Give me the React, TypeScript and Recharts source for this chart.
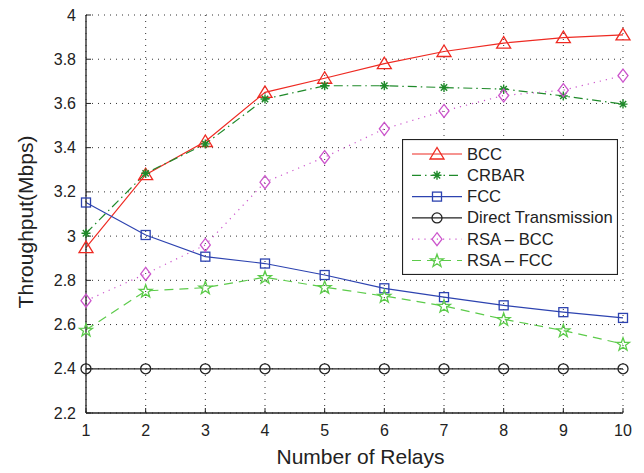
import { LineChart, Line, XAxis, YAxis, CartesianGrid, Legend, Label } from 'recharts';

const relays = [1, 2, 3, 4, 5, 6, 7, 8, 9, 10];
const bcc = [2.948, 3.278, 3.428, 3.65, 3.714, 3.78, 3.835, 3.873, 3.898, 3.91];
const crbar = [3.013, 3.284, 3.417, 3.62, 3.68, 3.68, 3.672, 3.665, 3.634, 3.597];
const fcc = [3.152, 3.005, 2.907, 2.876, 2.824, 2.764, 2.724, 2.687, 2.656, 2.63];
const direct = [2.4, 2.4, 2.4, 2.4, 2.4, 2.4, 2.4, 2.4, 2.4, 2.4];
const rsaBcc = [2.708, 2.829, 2.96, 3.244, 3.357, 3.485, 3.566, 3.636, 3.66, 3.726];
const rsaFcc = [2.576, 2.752, 2.767, 2.814, 2.769, 2.729, 2.684, 2.624, 2.573, 2.512];
const yTicks = [2.2, 2.4, 2.6, 2.8, 3, 3.2, 3.4, 3.6, 3.8, 4];

const data = relays.map((r, i) => ({
  relays: r,
  bcc: bcc[i],
  crbar: crbar[i],
  fcc: fcc[i],
  direct: direct[i],
  rsaBcc: rsaBcc[i],
  rsaFcc: rsaFcc[i],
}));

type Shape = 'triangle' | 'asterisk' | 'square' | 'circle' | 'diamond' | 'star';

const series: { key: string; name: string; color: string; dash?: string; shape: Shape; width: number }[] = [
  { key: 'bcc', name: 'BCC', color: '#ee2a22', shape: 'triangle', width: 1.2 },
  { key: 'crbar', name: 'CRBAR', color: '#1f8a2a', dash: '9 4 1.5 4', shape: 'asterisk', width: 1.2 },
  { key: 'fcc', name: 'FCC', color: '#2d43b0', shape: 'square', width: 1.2 },
  { key: 'direct', name: 'Direct Transmission', color: '#222222', shape: 'circle', width: 1.2 },
  { key: 'rsaBcc', name: 'RSA \u2013 BCC', color: '#cc55cc', dash: '1.2 5', shape: 'diamond', width: 1.2 },
  { key: 'rsaFcc', name: 'RSA \u2013 FCC', color: '#5ccb4a', dash: '9 6', shape: 'star', width: 1.2 },
];

const font = '"Liberation Sans", Arial, Helvetica, sans-serif';

function Marker({ shape, cx, cy, color }: { shape: Shape; cx: number; cy: number; color: string }) {
  const common = { fill: 'none', stroke: color, strokeWidth: 1.3 };
  if (shape === 'triangle') {
    return <polygon points={`${cx},${cy - 6.5} ${cx - 7},${cy + 5} ${cx + 7},${cy + 5}`} {...common} />;
  }
  if (shape === 'square') {
    return <rect x={cx - 4.5} y={cy - 4.5} width={9} height={9} {...common} />;
  }
  if (shape === 'circle') {
    return <circle cx={cx} cy={cy} r={5} {...common} />;
  }
  if (shape === 'diamond') {
    return <polygon points={`${cx},${cy - 6.5} ${cx + 5},${cy} ${cx},${cy + 6.5} ${cx - 5},${cy}`} {...common} />;
  }
  if (shape === 'asterisk') {
    const r = 4.5;
    const d = r * 0.707;
    return (
      <path
        d={`M${cx - r},${cy}L${cx + r},${cy}M${cx},${cy - r}L${cx},${cy + r}M${cx - d},${cy - d}L${cx + d},${cy + d}M${cx - d},${cy + d}L${cx + d},${cy - d}`}
        stroke={color}
        strokeWidth={1.4}
      />
    );
  }
  // pentagram
  const pts: string[] = [];
  for (let k = 0; k < 10; k++) {
    const rad = k % 2 === 0 ? 6.8 : 2.7;
    const a = -Math.PI / 2 + (k * Math.PI) / 5;
    pts.push(`${cx + rad * Math.cos(a)},${cy + 0.5 + rad * Math.sin(a)}`);
  }
  return <polygon points={pts.join(' ')} {...common} />;
}

function LegendBox() {
  return (
    <svg width={216} height={136} style={{ display: 'block' }}>
      <rect x={0.5} y={0.5} width={215} height={135} fill="#fff" stroke="#222" strokeWidth={1.2} />
      {series.map((s, i) => {
        const y = 15 + i * 21.3;
        return (
          <g key={s.key}>
            <line x1={10} x2={60} y1={y} y2={y} stroke={s.color} strokeWidth={s.width} strokeDasharray={s.dash} />
            <Marker shape={s.shape} cx={35} cy={y} color={s.color} />
            <text x={65} y={y} dominantBaseline="central" fontSize={16.6} fontFamily={font} fill="#222">
              {s.name}
            </text>
          </g>
        );
      })}
    </svg>
  );
}

const fmt = (v: number) => String(Number(v.toFixed(1)));

function XTick(props: any) {
  const { x, y, payload } = props;
  return (
    <text x={x} y={y + 22} textAnchor="middle" fontSize={16} fontFamily={font} fill="#222">
      {payload.value}
    </text>
  );
}

function YTick(props: any) {
  const { x, y, payload } = props;
  return (
    <text x={x} y={y} textAnchor="end" dominantBaseline="central" fontSize={16} fontFamily={font} fill="#222">
      {fmt(payload.value)}
    </text>
  );
}

export default function App() {
  return (
    <div style={{ position: 'absolute', left: 0, top: 0, background: '#fff' }}>
      <LineChart width={644} height={473} data={data} margin={{ top: 15, right: 21, bottom: 0, left: 0 }}>
        <CartesianGrid stroke="#333" strokeDasharray="1 5" strokeWidth={1} />
        <XAxis
          dataKey="relays"
          type="number"
          domain={[1, 10]}
          ticks={relays}
          height={60}
          axisLine={{ stroke: '#222', strokeWidth: 1.3 }}
          tickLine={{ stroke: '#222' }}
          tickSize={-5}
          tickMargin={6}
          tick={<XTick />}
        >
          <Label value="Number of Relays" position="insideBottom" offset={9} dx={6} style={{ fill: '#222', fontSize: 21, fontFamily: font }} />
        </XAxis>
        <XAxis
          xAxisId="top"
          orientation="top"
          dataKey="relays"
          type="number"
          domain={[1, 10]}
          ticks={relays}
          height={0}
          tick={false}
          axisLine={{ stroke: '#222', strokeWidth: 1.3 }}
          tickLine={{ stroke: '#222' }}
          tickSize={-5}
        />
        <YAxis
          type="number"
          domain={[2.2, 4]}
          ticks={yTicks}
          width={86}
          axisLine={{ stroke: '#222', strokeWidth: 1.3 }}
          tickLine={{ stroke: '#222' }}
          tickSize={-5}
          tickMargin={15}
          tick={<YTick />}
        >
          <Label
            content={(props: any) => {
              const vb = props.viewBox;
              const x = vb.x + 25;
              const y = vb.y + vb.height / 2 + 8;
              return (
                <text
                  x={x}
                  y={y}
                  transform={`rotate(-90 ${x} ${y})`}
                  textAnchor="middle"
                  dominantBaseline="central"
                  fontSize={21}
                  fontFamily={font}
                  fill="#222"
                >
                  Throughput(Mbps)
                </text>
              );
            }}
          />
        </YAxis>
        <YAxis
          yAxisId="right"
          orientation="right"
          type="number"
          domain={[2.2, 4]}
          ticks={yTicks}
          width={0}
          tick={false}
          axisLine={{ stroke: '#222', strokeWidth: 1.3 }}
          tickLine={{ stroke: '#222' }}
          tickSize={-5}
        />
        {series.map((s) => (
          <Line
            key={s.key}
            dataKey={s.key}
            name={s.name}
            stroke={s.color}
            strokeWidth={s.width}
            strokeDasharray={s.dash}
            type="linear"
            isAnimationActive={false}
            dot={(p: any) => <Marker key={`${s.key}-${p.index}`} shape={s.shape} cx={p.cx} cy={p.cy} color={s.color} />}
            activeDot={false}
          />
        ))}
        <Legend
          verticalAlign="middle"
          align="center"
          content={() => <LegendBox />}
          wrapperStyle={{ left: 402, top: 139, width: 216, height: 136 }}
        />
      </LineChart>
    </div>
  );
}
